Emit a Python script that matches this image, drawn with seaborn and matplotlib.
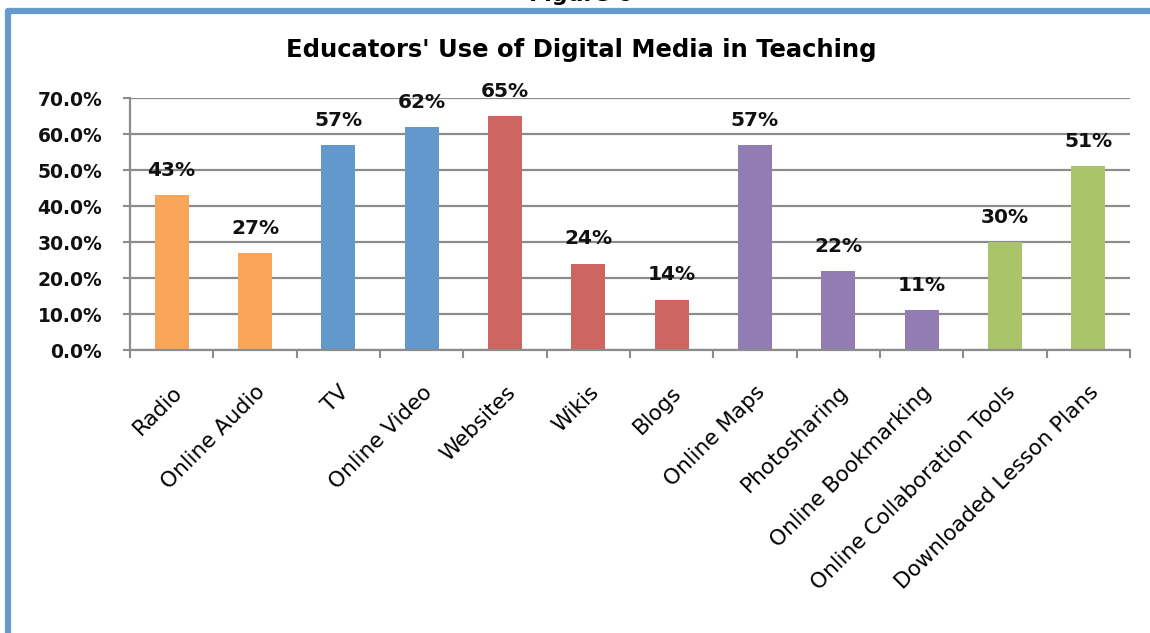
import matplotlib
matplotlib.use("Agg")
import matplotlib.pyplot as plt
import numpy as np
import pandas as pd
import seaborn as sns
from matplotlib.lines import Line2D

# Share of educators using each kind of digital media (percent)
categories = [
    "Radio", "Online Audio", "TV", "Online Video", "Websites", "Wikis",
    "Blogs", "Online Maps", "Photosharing", "Online Bookmarking",
    "Online Collaboration Tools", "Downloaded Lesson Plans",
]
usage_pct = [43, 27, 57, 62, 65, 24, 14, 57, 22, 11, 30, 51]
media_group = [
    "Audio", "Audio", "Video", "Video", "Web", "Web",
    "Web", "Visual", "Visual", "Visual", "Planning", "Planning",
]
group_colors = {
    "Audio": "#F9A65A",
    "Video": "#6398CC",
    "Web": "#CD6561",
    "Visual": "#917CB4",
    "Planning": "#AAC46C",
}
y_ticks = [0, 10, 20, 30, 40, 50, 60, 70]
y_tick_labels = [f"{v:.1f}%" for v in y_ticks]

df = pd.DataFrame({"category": categories, "pct": usage_pct, "group": media_group})

sns.set_theme(style="white")
plt.rcParams["font.family"] = ["DejaVu Sans"]

W, H = 1150, 633
fig = plt.figure(figsize=(W / 100, H / 100), dpi=100)
fig.patch.set_facecolor("white")

ax = fig.add_axes([130 / W, (H - 350) / H, 1000 / W, 252 / H])

sns.barplot(
    data=df, x="category", y="pct", hue="group", order=categories,
    palette=group_colors, dodge=False, width=0.41, saturation=1,
    legend=False, linewidth=0, ax=ax,
)

grid_gray = "#8C8C8C"
ax.set_xlim(-0.5, len(categories) - 0.5)
ax.set_ylim(0, 70)
ax.set_yticks(y_ticks)
ax.set_yticklabels(y_tick_labels, fontsize=13.5, fontweight="bold", color="#111111")
ax.yaxis.grid(True, color=grid_gray, lw=1.6)
ax.xaxis.grid(False)
ax.set_axisbelow(True)
ax.set_xlabel("")
ax.set_ylabel("")

for side in ("top", "right"):
    ax.spines[side].set_visible(False)
for side in ("left", "bottom"):
    ax.spines[side].set_color(grid_gray)
    ax.spines[side].set_linewidth(1.6)

ax.tick_params(axis="y", which="major", direction="out", length=5, width=1.5,
               color=grid_gray, pad=15, left=True)
# category separators as minor ticks, labels at category centres
ax.set_xticks(np.arange(-0.5, len(categories), 1.0), minor=True)
ax.tick_params(axis="x", which="minor", direction="out", length=6, width=1.5,
               color=grid_gray, bottom=True)
ax.tick_params(axis="x", which="major", length=0, pad=23)
ax.set_xticks(range(len(categories)))
ax.set_xticklabels(categories, rotation=45, ha="right", rotation_mode="anchor",
                   fontsize=15.5, color="black")

for i, v in enumerate(usage_pct):
    ax.annotate(f"{v}%", xy=(i, v), xytext=(0, 11), textcoords="offset points",
                ha="center", va="bottom", fontsize=14.5, fontweight="bold",
                color="#111111")

fig.text(581 / W, 1 - 50 / H, "Educators' Use of Digital Media in Teaching",
         ha="center", va="center", fontsize=17.5, fontweight="bold", color="black")
fig.text(581 / W, 1 - 1 / H, "Figure 6", ha="center", va="baseline",
         fontsize=16, fontweight="bold", color="black")

# frame around the figure panel (left and top edges)
frame = Line2D([8, 8, W + 5], [-5, H - 11, H - 11], transform=None,
               color="#6699CC", lw=4.5, solid_joinstyle="round",
               solid_capstyle="butt")
fig.add_artist(frame)

fig.savefig("out.png", dpi=100, facecolor="white")
